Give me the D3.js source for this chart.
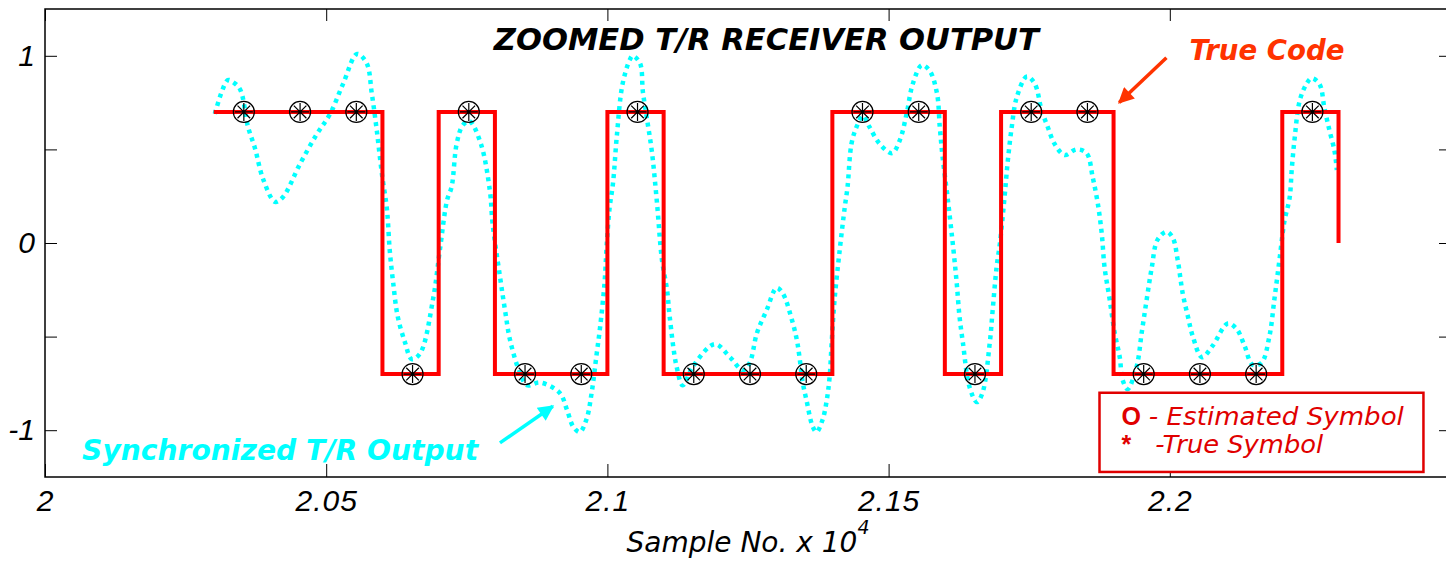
<!DOCTYPE html>
<html>
<head>
<meta charset="utf-8">
<script src="https://cdn.jsdelivr.net/npm/d3@7/dist/d3.min.js"></script>
<style>
  html, body { margin: 0; padding: 0; background: #fff; }
  svg { display: block; }
</style>
</head>
<body>
<svg id="chart" width="1446" height="561"></svg>
<script>
// symbol boundaries (sample no.) and transmitted symbols
const symbolStarts = [20300, 20400, 20500, 20600, 20700, 20800, 20900, 21000, 21100, 21200,
                      21300, 21400, 21500, 21600, 21700, 21800, 21900, 22000, 22100, 22200];
const trueSymbols = [1, 1, 1, -1, 1, -1, -1, 1, -1, -1, -1, 1, 1, -1, 1, 1, -1, -1, -1, 1];
const symbolLen = 100;
const amplitude = 0.7;

// synchronized T/R output
const rxSamples = [20302, 20325, 20334, 20347, 20361, 20373, 20388, 20409, 20423, 20453,
  20483, 20507, 20530, 20555, 20572, 20581, 20590, 20599, 20608, 20613, 20619, 20627, 20640,
  20652, 20667, 20690, 20702, 20715, 20723, 20732, 20743, 20755, 20775, 20791, 20796, 20809,
  20818, 20827, 20844, 20857, 20880, 20915, 20928, 20939, 20951, 20963, 20972, 20981, 20987,
  20995, 20999, 21004, 21010, 21017, 21027, 21040, 21045, 21058, 21063, 21070, 21079, 21088,
  21097, 21106, 21111, 21123, 21134, 21152, 21191, 21218, 21241, 21253, 21266, 21283, 21301,
  21312, 21328, 21337, 21342, 21347, 21354, 21365, 21372, 21383, 21390, 21395, 21399, 21404,
  21413, 21422, 21427, 21434, 21443, 21454, 21466, 21484, 21506, 21520, 21532, 21543, 21559,
  21573, 21586, 21591, 21596, 21605, 21614, 21621, 21626, 21632, 21644, 21657, 21667, 21680,
  21685, 21692, 21698, 21706, 21712, 21719, 21728, 21746, 21760, 21772, 21783, 21795, 21813,
  21834, 21852, 21863, 21872, 21879, 21884, 21893, 21902, 21911, 21916, 21925, 21941, 21950,
  21959, 21968, 21978, 21994, 22005, 22014, 22023, 22032, 22041, 22057, 22076, 22103, 22119,
  22133, 22147, 22163, 22177, 22186, 22195, 22204, 22213, 22217, 22222, 22231, 22243, 22252,
  22266, 22275, 22284, 22293, 22297];
const rxValues = [0.69, 0.87, 0.86, 0.82, 0.62, 0.51, 0.34, 0.22, 0.245, 0.42,
  0.58, 0.69, 0.85, 1.01, 0.96, 0.80, 0.60, 0.37, 0.18, -0.04, -0.21, -0.39, -0.53,
  -0.62, -0.59, -0.30, -0.04, 0.23, 0.30, 0.53, 0.63, 0.65, 0.53, 0.28, 0.10, -0.18,
  -0.36, -0.52, -0.69, -0.76, -0.745, -0.80, -0.89, -0.98, -1.01, -0.94, -0.80, -0.59, -0.45,
  -0.21, 0, 0.19, 0.32, 0.58, 0.85, 0.98, 1.0, 0.96, 0.81, 0.67, 0.49, 0.22,
  -0.09, -0.25, -0.40, -0.66, -0.76, -0.66, -0.54, -0.61, -0.68, -0.64, -0.48, -0.36, -0.24,
  -0.27, -0.41, -0.52, -0.62, -0.74, -0.84, -0.98, -1.01, -0.94, -0.84, -0.72, -0.52, -0.30,
  -0.04, 0.19, 0.30, 0.53, 0.62, 0.68, 0.62, 0.53, 0.48, 0.55, 0.69, 0.85, 0.95,
  0.92, 0.80, 0.62, 0.46, 0.24, 0, -0.21, -0.39, -0.53, -0.77, -0.85, -0.80, -0.53,
  -0.36, -0.13, 0, 0.24, 0.44, 0.62, 0.78, 0.89, 0.85, 0.71, 0.62, 0.53, 0.47,
  0.50, 0.48, 0.35, 0.21, 0.05, -0.13, -0.30, -0.48, -0.61, -0.73, -0.78, -0.66, -0.48,
  -0.30, -0.13, 0.016, 0.06, 0.03, -0.09, -0.27, -0.39, -0.50, -0.61, -0.55, -0.43, -0.46,
  -0.55, -0.65, -0.64, -0.50, -0.30, -0.09, 0.12, 0.24, 0.40, 0.56, 0.76, 0.85, 0.88,
  0.85, 0.72, 0.60, 0.49, 0.39];

const xTicks = [20000, 20500, 21000, 21500, 22000];
const yTicks = [-1, -0.5, 0, 0.5, 1];

const svg = d3.select("#chart"),
  margin = { top: 9, right: -5, bottom: 84, left: 45 },
  width = +svg.attr("width") - margin.left - margin.right,
  height = +svg.attr("height") - margin.top - margin.bottom;

const chart = svg.append("g").attr("transform", `translate(${margin.left},${margin.top})`);

const x = d3.scaleLinear().domain([20000, 22500]).range([0, width]);
const y = d3.scaleLinear().domain([-1.25, 1.25]).range([height, 0]);

const tickFont = "'Liberation Sans', Arial, sans-serif";
const comic = "'DejaVu Sans', 'Open Sans', sans-serif";

// axes (ticks point inward, like MATLAB)
const styleAxis = g => {
  g.select(".domain").remove();
  g.selectAll(".tick line").attr("stroke", "#000").attr("stroke-width", 1);
  g.selectAll(".tick text")
    .style("font-family", tickFont)
    .style("font-style", "italic")
    .style("font-size", "30px")
    .attr("fill", "#000");
};

chart.append("g")
  .attr("transform", `translate(0,${height})`)
  .call(d3.axisBottom(x).tickValues(xTicks).tickSize(-13).tickPadding(13)
    .tickFormat(d => String(+(d / 1e4).toFixed(2))))
  .call(styleAxis)
  .selectAll(".tick text").style("letter-spacing", "1px");

chart.append("g")
  .call(d3.axisTop(x).tickValues(xTicks).tickSize(-12).tickFormat(""))
  .call(styleAxis);

chart.append("g")
  .call(d3.axisLeft(y).tickValues(yTicks).tickSize(-12).tickPadding(10)
    .tickFormat(d => Number.isInteger(d) ? d : ""))
  .call(styleAxis);

chart.append("g")
  .attr("transform", `translate(${width},0)`)
  .call(d3.axisRight(y).tickValues(yTicks).tickSize(-12).tickFormat(""))
  .call(styleAxis);

chart.append("rect")
  .attr("width", width).attr("height", height)
  .attr("fill", "none").attr("stroke", "#000").attr("stroke-width", 1.5);

// synchronized receiver output
const rx = rxSamples.map((s, i) => [s, rxValues[i]]);
chart.append("path")
  .datum(rx)
  .attr("fill", "none")
  .attr("stroke", "#00FFFF")
  .attr("stroke-width", 4.5)
  .attr("stroke-dasharray", "4,4.5")
  .attr("d", d3.line().x(d => x(d[0])).y(d => y(d[1])).curve(d3.curveCatmullRom));

// true code (step)
const code = symbolStarts.map((s, i) => [s, trueSymbols[i] * amplitude]);
const lastStart = symbolStarts[symbolStarts.length - 1];
code.push([lastStart + symbolLen, trueSymbols[trueSymbols.length - 1] * amplitude]);
code.push([lastStart + symbolLen, 0]);
chart.append("path")
  .datum(code)
  .attr("fill", "none")
  .attr("stroke", "#FF0000")
  .attr("stroke-width", 4)
  .attr("d", d3.line().x(d => x(d[0])).y(d => y(d[1])).curve(d3.curveStepAfter));

// estimated (o) and true (*) symbols at symbol centres
const marks = chart.selectAll(".sym")
  .data(symbolStarts.map((s, i) => ({ s: s + symbolLen / 2, v: trueSymbols[i] * amplitude })))
  .enter().append("g")
  .attr("class", "sym")
  .attr("transform", d => `translate(${x(d.s) + 2},${y(d.v)})`);

marks.append("circle")
  .attr("r", 10.5).attr("fill", "none").attr("stroke", "#000").attr("stroke-width", 1.2);

const star = 9;
marks.append("path")
  .attr("fill", "none").attr("stroke", "#000").attr("stroke-width", 1.2)
  .attr("d", `M${-star},0H${star}M0,${-star}V${star}` +
    `M${-star * 0.7},${-star * 0.7}L${star * 0.7},${star * 0.7}` +
    `M${-star * 0.7},${star * 0.7}L${star * 0.7},${-star * 0.7}`);

// title
chart.append("text")
  .attr("x", x(20798)).attr("y", y(1.03))
  .attr("textLength", 545).attr("lengthAdjust", "spacingAndGlyphs")
  .style("font-family", comic).style("font-weight", "bold").style("font-style", "italic")
  .style("font-size", "31px")
  .text("ZOOMED T/R RECEIVER OUTPUT");

// arrow heads
const defs = svg.append("defs");
[["headRed", "#FF3300"], ["headCyan", "#00FFFF"]].forEach(([id, c]) => {
  defs.append("marker")
    .attr("id", id).attr("viewBox", "0 0 10 10")
    .attr("refX", 9).attr("refY", 5)
    .attr("markerWidth", 5).attr("markerHeight", 4.5)
    .attr("orient", "auto")
    .append("path").attr("d", "M0,0L10,5L0,10Z").attr("fill", c);
});

chart.append("text")
  .attr("x", x(22035)).attr("y", y(0.98))
  .attr("textLength", 155).attr("lengthAdjust", "spacingAndGlyphs")
  .style("font-family", comic).style("font-weight", "bold").style("font-style", "italic")
  .style("font-size", "29px").attr("fill", "#FF3300")
  .text("True Code");

chart.append("line")
  .attr("x1", x(21994)).attr("y1", y(0.99))
  .attr("x2", x(21910)).attr("y2", y(0.75))
  .attr("stroke", "#FF3300").attr("stroke-width", 3.5)
  .attr("marker-end", "url(#headRed)");

chart.append("text")
  .attr("x", x(20066)).attr("y", y(-1.16))
  .attr("textLength", 396).attr("lengthAdjust", "spacingAndGlyphs")
  .style("font-family", comic).style("font-weight", "bold").style("font-style", "italic")
  .style("font-size", "29px").attr("fill", "#00FFFF")
  .text("Synchronized T/R Output");

chart.append("line")
  .attr("x1", x(20809)).attr("y1", y(-1.068))
  .attr("x2", x(20903)).attr("y2", y(-0.872))
  .attr("stroke", "#00FFFF").attr("stroke-width", 3.5)
  .attr("marker-end", "url(#headCyan)");

// legend box
chart.append("rect")
  .attr("x", x(21875)).attr("y", y(-0.80))
  .attr("width", x(22451) - x(21875)).attr("height", y(-1.223) - y(-0.80))
  .attr("fill", "#fff").attr("stroke", "#E00000").attr("stroke-width", 2.5);

const leg1 = chart.append("text")
  .attr("x", x(21914)).attr("y", y(-0.972))
  .style("font-family", comic).style("font-size", "25px").attr("fill", "#E00000");
leg1.append("tspan").style("font-weight", "bold").style("font-family", tickFont).text("O");
leg1.append("tspan").style("font-style", "italic").attr("dx", 8)
  .attr("textLength", 255).attr("lengthAdjust", "spacingAndGlyphs")
  .text("- Estimated Symbol");

const leg2 = chart.append("text")
  .attr("x", x(21914)).attr("y", y(-1.122))
  .style("font-family", comic).style("font-size", "25px").attr("fill", "#E00000");
leg2.append("tspan").style("font-weight", "bold").style("font-family", tickFont).text("*");
leg2.append("tspan").style("font-style", "italic").attr("dx", 24)
  .attr("textLength", 168).attr("lengthAdjust", "spacingAndGlyphs")
  .text("-True Symbol");

// x label
const xl = svg.append("text")
  .attr("x", margin.left + width / 2).attr("y", 552)
  .attr("text-anchor", "middle")
  .style("font-family", comic).style("font-style", "italic").style("font-size", "28px")
  .attr("fill", "#000");
xl.append("tspan").text("Sample No. x 10");
xl.append("tspan").attr("dy", -18).style("font-size", "19px").text("4");
</script>
</body>
</html>
